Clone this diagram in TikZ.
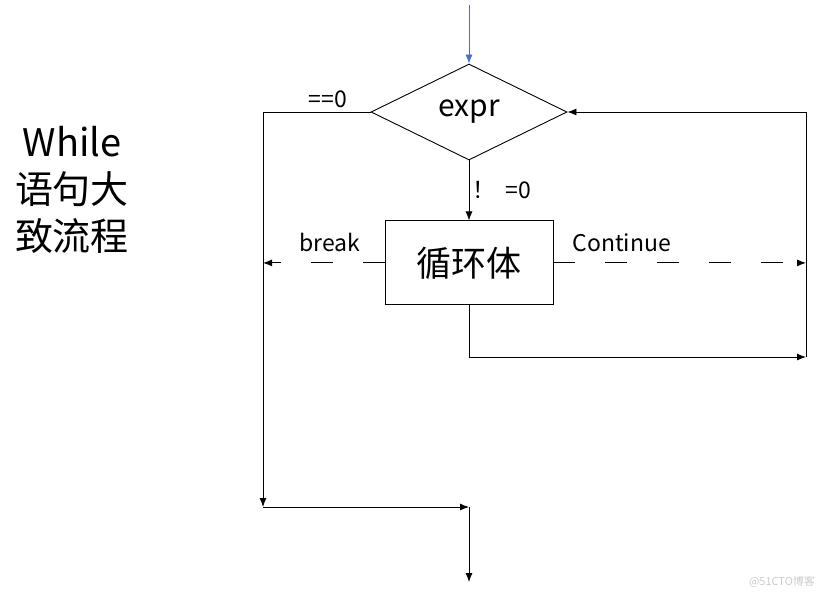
\documentclass[tikz,border=0pt]{standalone}
\usepackage{fontspec}
\setmainfont{Noto Sans CJK SC}
\usetikzlibrary{shapes,arrows,arrows.meta,positioning,calc}
\definecolor{inblue}{RGB}{68,114,196}

\begin{document}
\begin{tikzpicture}[x=1pt, y=-1pt, line width=0.9pt, >={Latex[length=9pt,width=7pt]},
        decision/.style={diamond, draw, minimum width=196pt, minimum height=96pt, inner sep=0pt, font=\fontsize{30}{34}\selectfont},
        block/.style={rectangle, draw, minimum width=168pt, minimum height=84pt, font=\fontsize{35}{38}\selectfont},
        lbl/.style={font=\fontsize{23}{26}\selectfont},
        jump/.style={->, dash pattern=on 22pt off 30pt}]
        \useasboundingbox (0,0) rectangle (833,598);

        \node[font=\fontsize{38}{47}\selectfont, align=center] (title) at (72,190) {While\\语句大\\致流程};

        \node[decision] (expr) at (469,112) {expr};
        \node[block, below=60pt of expr] (body) {循环体};

        \coordinate (start) at (469,5);
        \coordinate (exit) at (263,507);
        \coordinate (join) at (469,507);
        \coordinate (out) at (469,582);
        \coordinate (rgt) at (806,357);

        \node[lbl] at (328,99) {==0};

        \draw[->, draw=inblue, line width=0.7pt] (start) -- (expr);
        \draw[->] (expr.west) -| (exit);
        \draw[->] (exit) -- (join);
        \draw[->] (join) -- (out);
        \draw[->] (expr) -- node[lbl, right] {！\hspace{10pt}=0} (body);

        \draw[jump] (body.west) -- node[lbl, above=7pt, pos=0.45] {break} (body.west -| exit);
        \draw[jump] (body.east) -- node[lbl, above=7pt, pos=0.27] {Continue} (body.east -| rgt);

        \draw[->] (body) |- (rgt);
        \draw[->] (rgt) |- (expr.east);

        \node[font=\fontsize{11}{13}\selectfont, text=gray!40] (mark) at (782,582) {@51CTO博客};
    \end{tikzpicture}
\end{document}
